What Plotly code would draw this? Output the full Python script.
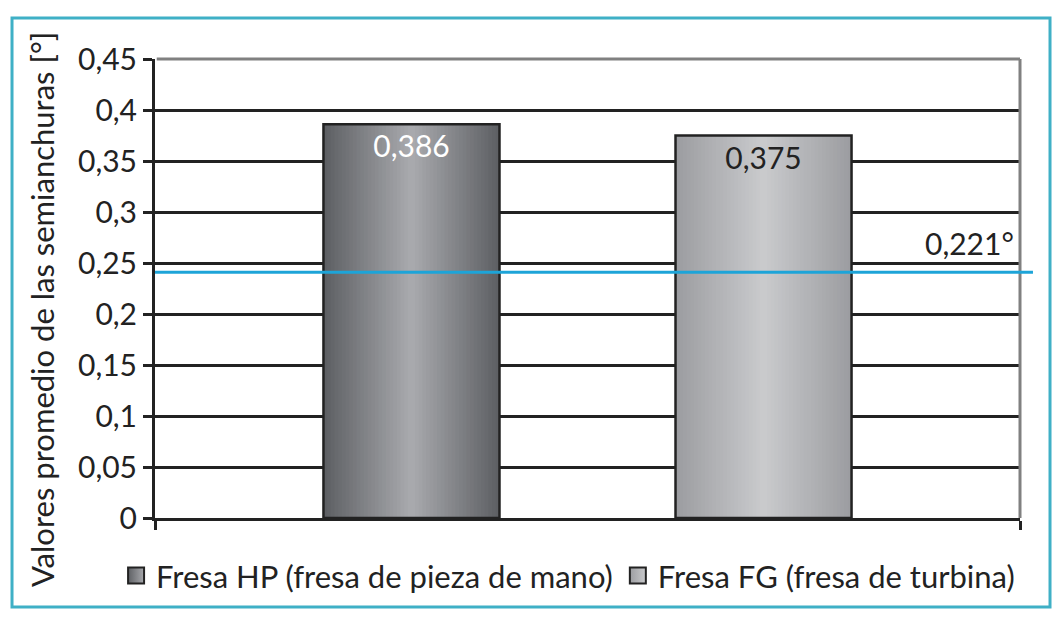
import plotly.graph_objects as go

# ---- data ----
series_names = ["Fresa HP (fresa de pieza de mano)", "Fresa FG (fresa de turbina)"]
series_values = [0.386, 0.375]
value_labels = ["0,386", "0,375"]
reference_value = 0.241          # position of the drawn reference line
reference_label = "0,221°"
y_tickvals = [0, 0.05, 0.1, 0.15, 0.2, 0.25, 0.3, 0.35, 0.4, 0.45]
y_ticktext = ["0", "0,05", "0,1", "0,15", "0,2", "0,25", "0,3", "0,35", "0,4", "0,45"]
y_title = "Valores promedio de las semianchuras [°]"

# ---- style ----
FONT = "Lato"
TXT = "#222222"
edge_colors = [(94, 96, 100), (156, 157, 161)]
center_colors = [(168, 169, 173), (201, 202, 204)]
label_colors = ["white", TXT]
bar_width = 0.2035
bar_centers = [-0.2035, 0.2035]
N_LAYERS = 24
CAT = [""]

fig = go.Figure()

for i, name in enumerate(series_names):
    e, c = edge_colors[i], center_colors[i]
    for k in range(N_LAYERS):
        t = k / (N_LAYERS - 1)
        col = tuple(round(e[j] + (c[j] - e[j]) * t) for j in range(3))
        w = bar_width * (1 - k / N_LAYERS)
        fig.add_trace(go.Bar(
            x=CAT, y=[series_values[i]],
            width=w, offset=bar_centers[i] - w / 2,
            marker=dict(color="rgb(%d,%d,%d)" % col, line=dict(width=0)),
            name=name, showlegend=False, legendgroup=name,
            hoverinfo="skip",
        ))
    # outline + value label on top
    fig.add_trace(go.Bar(
        x=CAT, y=[series_values[i]],
        width=bar_width, offset=bar_centers[i] - bar_width / 2,
        marker=dict(color="rgba(0,0,0,0)", line=dict(color=TXT, width=2.5)),
        text=[value_labels[i]], textposition="inside", insidetextanchor="end",
        textangle=0, constraintext="none",
        textfont=dict(family=FONT, size=30, color=label_colors[i]),
        showlegend=False, legendgroup=name, name=name,
    ))
    # legend entry (square swatch with gradient)
    fig.add_trace(go.Scatter(
        x=[None], y=[None], mode="markers", name=name, legendgroup=name,
        marker=dict(symbol="square", size=16,
                    color="rgb(%d,%d,%d)" % e,
                    gradient=dict(type="horizontal", color="rgb(%d,%d,%d)" % c),
                    line=dict(color=TXT, width=2)),
        showlegend=True,
    ))

fig.update_layout(
    barmode="overlay",
    width=1062, height=620,
    paper_bgcolor="white", plot_bgcolor="white",
    margin=dict(l=147, r=50, t=51, b=110, autoexpand=False),
    font=dict(family=FONT, size=30, color=TXT),
    showlegend=True,
    legend=dict(orientation="h", x=-0.045, xanchor="left", y=-0.126, yanchor="middle",
                font=dict(family=FONT, size=31, color=TXT),
                bgcolor="rgba(0,0,0,0)", itemwidth=30, traceorder="normal",
                tracegroupgap=0),
    xaxis=dict(type="category", range=[-0.5, 0.5], showticklabels=False,
               showline=True, linecolor=TXT, linewidth=3,
               ticks="outside", tickson="boundaries", ticklen=9, tickwidth=3,
               tickcolor=TXT, showgrid=False, zeroline=False, fixedrange=True),
    yaxis=dict(range=[0, 0.45], tickvals=y_tickvals, ticktext=y_ticktext,
               showline=True, linecolor=TXT, linewidth=3,
               ticks="outside", ticklen=9, tickwidth=3, tickcolor=TXT,
               showgrid=True, gridcolor=TXT, gridwidth=3,
               zeroline=False, tickfont=dict(family=FONT, size=30, color=TXT),
               fixedrange=True),
)

# plot-area border (grey top and right)
fig.add_shape(type="line", xref="paper", yref="paper", x0=0.002, x1=1, y0=1, y1=1,
              line=dict(color="#808080", width=3))
fig.add_shape(type="line", xref="paper", yref="paper", x0=1, x1=1, y0=0, y1=1,
              line=dict(color="#808080", width=3))

# reference line
fig.add_shape(type="line", xref="paper", yref="y", x0=0, x1=1.015,
              y0=reference_value, y1=reference_value,
              line=dict(color="#1da4d8", width=3))
fig.add_annotation(xref="paper", yref="y", x=0.995, y=reference_value,
                   text=reference_label, showarrow=False, xanchor="right",
                   yanchor="bottom", yshift=9,
                   font=dict(family=FONT, size=30, color=TXT))

# y axis title
fig.add_annotation(xref="paper", yref="paper", x=-0.1306, y=0.453,
                   text=y_title, textangle=-90, showarrow=False,
                   xanchor="center", yanchor="middle",
                   font=dict(family=FONT, size=31, color=TXT))

# outer teal frame
fig.add_shape(type="rect", xref="paper", yref="paper",
              x0=-0.1653, x1=1.0347, y0=-0.1939, y1=1.0893,
              line=dict(color="#3fb0c6", width=3), fillcolor="rgba(0,0,0,0)")

fig.write_html("out.html")
